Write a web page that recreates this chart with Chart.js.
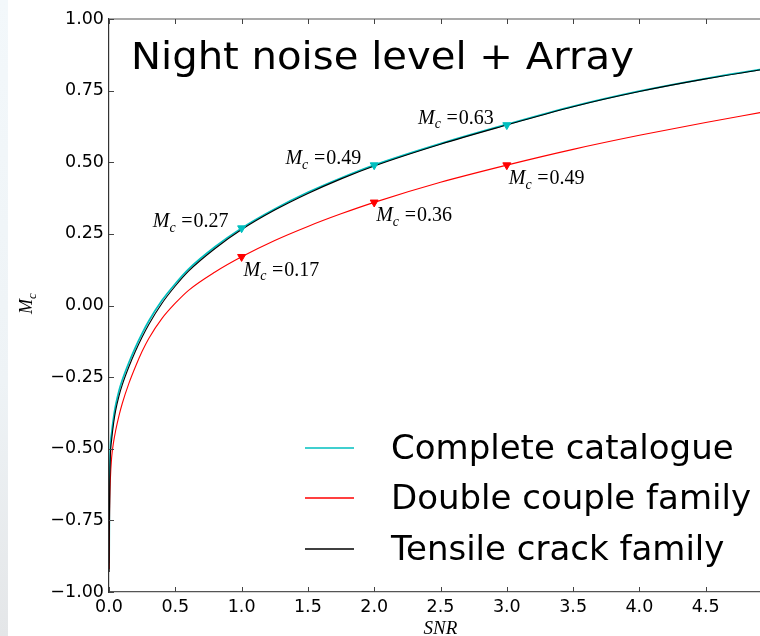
<!DOCTYPE html>
<html>
<head>
<meta charset="utf-8">
<script src="https://cdn.jsdelivr.net/npm/chart.js@4.4.1/dist/chart.umd.min.js"></script>
<style>
  html, body { margin: 0; padding: 0; background: #fff; overflow: hidden; }
  #wrap { position: relative; width: 760px; height: 636px; overflow: hidden; background: #fff; }
  #wrap canvas { position: absolute; left: 0; top: 0; }
  #edge { position: absolute; left: 0; top: 0; width: 8px; height: 636px;
          background: linear-gradient(#f3f8fb, #eef3f6 60%, #e4e6e8); }
</style>
</head>
<body>
<div id="wrap">
  <canvas id="chart" width="800" height="636"></canvas>
  <div id="edge"></div>
</div>
<script>
// Detection threshold M_c as a function of signal-to-noise ratio
const snr = [0.001, 0.003, 0.006, 0.01, 0.02, 0.035, 0.05, 0.075, 0.1, 0.15, 0.2, 0.25, 0.3, 0.4,
             0.5, 0.6, 0.8, 1.0, 1.25, 1.5, 1.75, 2.0, 2.5, 3.0, 3.5, 4.0, 4.5, 4.92];
const completeCatalogue = [-0.90, -0.71, -0.585, -0.50, -0.445, -0.39, -0.348, -0.298, -0.260, -0.199, -0.145, -0.097, -0.054, 0.018,
                           0.076, 0.127, 0.205, 0.270, 0.337, 0.395, 0.445, 0.490, 0.565, 0.632, 0.695, 0.748, 0.792, 0.824];
const doubleCouple = [-0.92, -0.78, -0.68, -0.61, -0.53, -0.475, -0.437, -0.385, -0.342, -0.272, -0.213, -0.160, -0.115, -0.045,
                      0.008, 0.053, 0.117, 0.170, 0.227, 0.276, 0.320, 0.360, 0.430, 0.490, 0.545, 0.594, 0.639, 0.674];
const tensileCrack = [-0.93, -0.74, -0.61, -0.525, -0.468, -0.41, -0.367, -0.316, -0.277, -0.214, -0.159, -0.110, -0.066, 0.008,
                      0.068, 0.120, 0.199, 0.265, 0.333, 0.391, 0.442, 0.487, 0.563, 0.630, 0.694, 0.747, 0.791, 0.823];

// Marked SNR levels and the M_c read at each
const markSnr = [1, 2, 3];
const markComplete = [0.27, 0.49, 0.63];
const markDouble = [0.17, 0.36, 0.49];

const seriesNames = ['Complete catalogue', 'Double couple family', 'Tensile crack family'];
const xTicks = [0, 0.5, 1, 1.5, 2, 2.5, 3, 3.5, 4, 4.5, 5];
const yTicks = [-1, -0.75, -0.5, -0.25, 0, 0.25, 0.5, 0.75, 1];
const titleText = 'Night noise level + Array';

const CYAN = '#00bfbf', RED = '#ff0000', BLACK = '#000000';
const seriesColors = [CYAN, RED, BLACK];
const SANS = '"DejaVu Sans", "Bitstream Vera Sans", sans-serif';
const SERIF = '"Liberation Serif", "DejaVu Serif", serif';

const pts = (xs, ys) => xs.map((x, i) => ({ x: x, y: ys[i] }));
const fmtY = v => (v < 0 ? '\u2212' : '') + Math.abs(v).toFixed(2);

// Draw "M_c" (italic M with subscript c), optionally followed by "=value"
function drawMc(ctx, x, y, size, suffix, align) {
  const mFont = 'italic ' + size + 'px ' + SERIF;
  const cFont = 'italic ' + Math.round(size * 0.7) + 'px ' + SERIF;
  const tFont = size + 'px ' + SERIF;
  ctx.font = mFont; const wM = ctx.measureText('M').width;
  ctx.font = cFont; const wc = ctx.measureText('c').width;
  let wEq = 0, wNum = 0;
  const gap = suffix ? size * 0.28 : 0;
  if (suffix) {
    ctx.font = tFont;
    wEq = ctx.measureText('=').width;
    wNum = ctx.measureText(suffix).width;
  }
  const total = wM + wc + gap + wEq + (suffix ? 1 : 0) + wNum;
  let x0 = align === 'right' ? x - total : (align === 'center' ? x - total / 2 : x);
  ctx.textAlign = 'left';
  ctx.textBaseline = 'alphabetic';
  ctx.font = mFont; ctx.fillText('M', x0, y); x0 += wM;
  ctx.font = cFont; ctx.fillText('c', x0, y + size * 0.22); x0 += wc + gap;
  if (suffix) {
    ctx.font = tFont; ctx.fillText('=', x0, y); x0 += wEq + 1;
    ctx.fillText(suffix, x0, y);
  }
}

const decorations = {
  id: 'decorations',
  afterDraw(chart) {
    const ctx = chart.ctx;
    const area = chart.chartArea;
    const xs = chart.scales.x, ys = chart.scales.y;
    ctx.save();

    // top spine
    ctx.strokeStyle = '#555';
    ctx.lineWidth = 1.2;
    ctx.beginPath();
    ctx.moveTo(area.left, area.top);
    ctx.lineTo(area.right + 1, area.top);
    ctx.stroke();

    // inward tick marks
    ctx.lineWidth = 1;
    ctx.strokeStyle = '#444';
    ctx.beginPath();
    xTicks.forEach(v => {
      const px = Math.round(xs.getPixelForValue(v)) + 0.5;
      ctx.moveTo(px, area.bottom); ctx.lineTo(px, area.bottom - 5);
      ctx.moveTo(px, area.top); ctx.lineTo(px, area.top + 5);
    });
    yTicks.forEach(v => {
      const py = Math.round(ys.getPixelForValue(v)) + 0.5;
      ctx.moveTo(area.left, py); ctx.lineTo(area.left + 5, py);
    });
    ctx.stroke();

    // title inside the plot (slightly widened lettering)
    ctx.save();
    ctx.fillStyle = '#000';
    ctx.font = '37px ' + SANS;
    ctx.textAlign = 'left';
    ctx.textBaseline = 'alphabetic';
    ctx.translate(area.left + 22, area.top + 50);
    ctx.scale(1.085, 1);
    ctx.fillText(titleText, 0, 0);
    ctx.restore();

    // value labels beside markers
    ctx.fillStyle = '#000';
    markSnr.forEach((s, i) => {
      const px = xs.getPixelForValue(s);
      const pyC = ys.getPixelForValue(markComplete[i]);
      drawMc(ctx, px - 13, pyC - 1, 20, markComplete[i].toFixed(2), 'right');
      const pyD = ys.getPixelForValue(markDouble[i]);
      drawMc(ctx, px + 2, pyD + 19, 20, markDouble[i].toFixed(2), 'left');
    });

    // legend, lower right of the plot
    const lx0 = area.left + 196, lx1 = area.left + 245, tx = area.left + 282;
    const rowY = [area.bottom - 144, area.bottom - 94, area.bottom - 43];
    seriesNames.forEach((name, i) => {
      ctx.strokeStyle = seriesColors[i];
      ctx.lineWidth = 1.3;
      ctx.beginPath();
      ctx.moveTo(lx0, rowY[i]); ctx.lineTo(lx1, rowY[i]);
      ctx.stroke();
      ctx.fillStyle = '#000';
      ctx.font = '34px ' + SANS;
      ctx.textAlign = 'left';
      ctx.textBaseline = 'alphabetic';
      ctx.fillText(name, tx, rowY[i] + 11);
    });

    // axis titles
    ctx.fillStyle = '#000';
    ctx.font = 'italic 19px ' + SERIF;
    ctx.textAlign = 'center';
    ctx.textBaseline = 'alphabetic';
    const midX = (xs.getPixelForValue(0) + xs.getPixelForValue(5)) / 2;
    ctx.fillText('SNR', midX, area.bottom + 42);

    ctx.save();
    ctx.translate(32, (area.top + area.bottom) / 2 - 2);
    ctx.rotate(-Math.PI / 2);
    drawMc(ctx, 0, 0, 18, '', 'center');
    ctx.restore();

    ctx.restore();
  }
};

const lineStyle = (label, data, color, width, order) => ({
  label: label, data: data, borderColor: color, backgroundColor: color,
  borderWidth: width, pointRadius: 0, pointHoverRadius: 0, fill: false,
  cubicInterpolationMode: 'monotone', order: order
});
const markStyle = (data, color) => ({
  type: 'scatter', data: data, borderColor: color, backgroundColor: color,
  pointStyle: 'triangle', rotation: 180, pointRadius: 4.6, pointBorderWidth: 1,
  showLine: false, order: 0
});

new Chart(document.getElementById('chart'), {
  type: 'line',
  data: {
    datasets: [
      lineStyle(seriesNames[0], pts(snr, completeCatalogue), CYAN, 1.7, 3),
      lineStyle(seriesNames[1], pts(snr, doubleCouple), RED, 1.1, 2),
      lineStyle(seriesNames[2], pts(snr, tensileCrack), BLACK, 1.1, 1),
      markStyle(pts(markSnr, markComplete), CYAN),
      markStyle(pts(markSnr, markDouble), RED)
    ]
  },
  options: {
    responsive: false,
    animation: false,
    events: [],
    layout: { padding: { top: 19, right: 28, bottom: 0, left: 0 } },
    plugins: { legend: { display: false }, tooltip: { enabled: false }, title: { display: false } },
    scales: {
      x: {
        type: 'linear', min: 0, max: 5,
        afterFit: s => { s.height = 44; },
        afterBuildTicks: s => { s.ticks = xTicks.map(v => ({ value: v })); },
        grid: { display: true, drawOnChartArea: false, drawTicks: false },
        border: { display: true, color: '#555', width: 1.2 },
        ticks: {
          autoSkip: false, maxRotation: 0, padding: 5, color: '#000',
          font: { family: SANS, size: 17.5 },
          callback: v => (v >= 5 ? '' : v.toFixed(1))
        }
      },
      y: {
        type: 'linear', min: -1, max: 1,
        afterFit: s => { s.width = 109; },
        afterBuildTicks: s => { s.ticks = yTicks.map(v => ({ value: v })); },
        grid: { display: true, drawOnChartArea: false, drawTicks: false },
        border: { display: true, color: '#333', width: 1.2 },
        ticks: {
          padding: 5, color: '#000',
          font: { family: SANS, size: 17.5 },
          callback: v => fmtY(v)
        }
      }
    }
  },
  plugins: [decorations]
});
</script>
</body>
</html>
